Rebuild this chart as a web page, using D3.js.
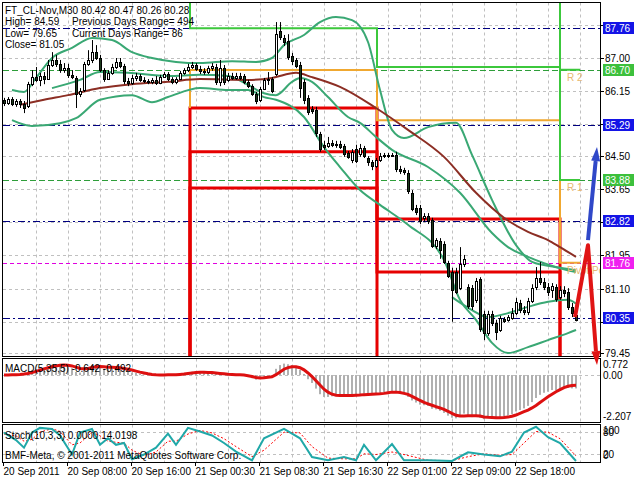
<!DOCTYPE html>
<html><head><meta charset="utf-8">
<script src="https://cdn.jsdelivr.net/npm/d3@7"></script>
<style>
body{margin:0;background:#fff;}
svg{display:block;}
text{font-family:"Liberation Sans",Arial,sans-serif;font-size:10px;}
</style></head><body>
<svg id="c" width="640" height="480"></svg>
<script>
// ---------------- DATA ----------------
const timeLabels=["20 Sep 2011","20 Sep 08:00","20 Sep 16:00","21 Sep 00:30","21 Sep 08:30","21 Sep 16:30","22 Sep 01:00","22 Sep 09:00","22 Sep 18:00"];
const labelBars=[0,16,32,48,64,80,96,112,128];
const priceTicks=[87.85,87.00,86.15,85.30,84.50,83.65,82.80,81.95,81.10,80.25,79.45];
// labels shown (the others are hidden behind the coloured level boxes)
const priceLabelTicks=[87.00,86.15,84.50,83.65,81.95,81.10,79.45];
const priceTickLabels=["87.00","86.15","84.50","83.65","81.95","81.10","79.45"];
const macdTicks=[0.772,0.00,-2.207];
const macdTickLabels=["0.772","0.00","-2.207"];
const stochTicks=[100,80,20,0];
const stochTickLabels=["100","80","20","0"];

const opens=[85.93,85.85,85.95,85.82,85.90,85.82,85.77,86.33,86.51,86.44,
86.54,86.46,86.82,86.95,86.85,86.69,86.74,86.57,86.49,86.08,
86.18,86.85,86.95,87.15,87.00,86.69,86.46,86.62,86.77,86.90,
86.80,86.41,86.36,86.49,86.54,86.44,86.41,86.39,86.44,86.36,
86.51,86.59,86.46,86.39,86.46,86.62,86.69,86.77,86.82,86.72,
86.67,86.64,86.74,86.77,86.39,86.74,86.44,86.54,86.49,86.54,
86.54,86.39,86.28,86.08,85.93,86.21,86.44,86.46,86.59,87.69,
87.51,87.43,87.05,86.95,86.82,86.39,85.98,85.69,85.67,85.06,
84.78,84.75,84.83,84.78,84.80,84.75,84.57,84.39,84.67,84.54,
84.70,84.44,84.34,84.24,84.39,84.52,84.49,84.52,84.52,84.16,
84.13,84.06,83.55,83.16,83.16,82.91,82.96,82.85,82.19,82.31,
82.24,81.76,81.52,81.52,81.11,81.73,81.14,81.11,80.81,81.34,
80.45,79.96,80.45,80.22,80.04,80.32,80.30,80.35,80.47,80.73,
80.55,80.50,80.78,81.14,81.37,81.27,81.14,81.06,81.14,80.88,
81.06,81.01,80.63,80.42];
const highs=[85.98,86.00,86.00,85.95,85.95,85.90,86.39,86.69,86.77,86.62,
86.64,86.95,87.15,87.08,86.95,86.87,86.85,86.69,86.54,86.23,
86.90,87.20,87.46,87.33,87.08,86.74,86.69,86.85,87.00,87.00,
86.85,86.49,86.57,86.62,86.59,86.51,86.46,86.49,86.54,86.57,
86.64,86.64,86.51,86.51,86.67,86.74,86.85,86.90,86.87,86.80,
86.74,86.80,86.87,86.85,86.95,86.82,86.62,86.62,86.62,86.62,
86.59,86.44,86.33,86.13,86.26,86.49,86.64,86.51,87.92,87.92,
87.59,87.61,87.13,87.00,86.90,86.46,86.05,85.77,85.75,85.11,
84.88,84.98,84.90,84.88,84.88,84.80,84.62,84.67,84.78,84.80,
84.75,84.49,84.39,84.44,84.57,84.57,84.57,84.57,84.60,84.24,
84.19,84.13,83.62,83.24,83.24,83.03,83.03,82.91,82.39,82.39,
82.31,81.81,81.63,81.63,82.16,81.96,81.21,81.19,81.37,81.39,
80.53,80.53,80.53,80.30,80.40,80.37,80.42,80.60,80.86,80.81,
80.65,80.86,81.21,81.65,81.78,81.37,81.24,81.24,81.21,81.16,
81.16,81.11,80.73,80.47];
const lows=[85.77,85.80,85.77,85.75,85.72,85.59,85.72,86.28,86.39,86.28,
86.33,86.44,86.77,86.77,86.62,86.62,86.49,86.46,85.72,86.00,
86.13,86.80,86.87,86.95,86.64,86.39,86.44,86.57,86.72,86.74,
86.33,86.28,86.31,86.41,86.39,86.36,86.33,86.33,86.31,86.33,
86.49,86.41,86.33,86.33,86.44,86.57,86.64,86.72,86.67,86.59,
86.57,86.59,86.67,86.31,86.28,86.31,86.39,86.44,86.44,86.44,
86.33,86.23,86.03,85.82,85.87,86.18,86.31,86.10,86.54,87.46,
87.31,86.95,86.82,86.74,85.98,85.82,85.54,85.57,84.98,84.60,
84.65,84.70,84.72,84.70,84.67,84.47,84.42,84.31,84.31,84.47,
84.44,84.24,84.13,84.19,84.34,84.44,84.44,84.47,84.08,84.03,
84.01,83.52,83.08,82.98,82.75,82.80,82.75,82.14,82.11,81.86,
81.73,81.37,80.25,80.96,81.06,81.65,80.58,80.55,80.73,79.99,
79.78,79.89,80.14,79.78,79.99,80.22,80.25,80.30,80.42,80.47,
80.42,80.42,80.73,81.06,81.19,81.06,80.91,80.86,80.76,80.81,
80.88,80.55,80.37,80.26];
const closes=[85.85,85.95,85.82,85.90,85.82,85.72,86.33,86.51,86.44,86.54,
86.46,86.82,86.95,86.85,86.69,86.74,86.57,86.51,86.08,86.16,
86.85,86.95,87.15,87.00,86.69,86.46,86.62,86.77,86.90,86.80,
86.41,86.36,86.49,86.54,86.44,86.41,86.39,86.44,86.36,86.51,
86.59,86.46,86.39,86.46,86.62,86.69,86.77,86.82,86.72,86.67,
86.64,86.74,86.80,86.39,86.74,86.39,86.54,86.49,86.54,86.49,
86.39,86.28,86.08,85.90,86.21,86.44,86.46,86.16,87.61,87.54,
87.41,87.03,86.92,86.80,86.23,85.93,85.62,85.64,85.08,84.67,
84.72,84.83,84.78,84.80,84.72,84.54,84.47,84.60,84.37,84.70,
84.49,84.34,84.24,84.39,84.49,84.49,84.52,84.49,84.16,84.11,
84.08,83.60,83.14,83.06,82.83,82.96,82.83,82.19,82.34,82.09,
81.78,81.42,81.06,81.01,81.73,81.86,80.65,80.65,81.29,80.07,
79.96,80.45,80.22,79.99,80.35,80.27,80.37,80.47,80.76,80.55,
80.50,80.78,81.11,81.37,81.27,81.14,81.01,81.16,80.83,81.06,
80.99,80.63,80.47,80.28];

// moving average (brown)
const maIdx=[4,10,16,24,32,41,49,61,67,73,77,84,93,101,110,118,125,131,136,139,143];
const maVal=[85.80,85.93,86.05,86.23,86.33,86.39,86.46,86.44,86.49,86.62,86.51,86.26,85.72,85.16,84.47,83.55,82.91,82.55,82.34,82.16,81.91];
// bands (green)
const bbUpIdx=[2,5,8,12,17,22,27,32,37,43,49,57,63,67,70,75,79,83,87,91,94,97,100,106,113,117,122,128,132,135,139,143];
const bbUpVal=[86.18,86.13,86.49,87.00,87.26,87.51,87.46,87.15,87.00,86.90,86.87,86.92,86.90,87.00,87.33,87.59,87.92,88.05,87.97,87.41,86.18,85.16,84.95,85.23,85.34,84.52,83.37,82.21,81.78,81.70,81.63,81.57];
const bbMidIdx=[12,19,24,31,41,49,56,61,65,68,72,74,77,81,86,89,93,97,106,114,122,126,131,135,139,143];
const bbMidVal=[86.23,86.44,86.64,86.62,86.54,86.57,86.54,86.31,86.10,86.05,86.39,86.49,86.39,86.00,85.49,85.34,84.98,84.65,84.21,83.55,82.52,82.16,81.91,81.75,81.62,81.52];
const bbLowIdx=[2,7,14,18,24,32,37,41,49,56,61,65,68,75,80,84,89,94,101,110,114,118,122,126,131,136,141,143];
const bbLowVal=[85.41,85.26,85.33,85.46,85.93,86.05,85.87,86.00,86.23,86.18,86.18,86.00,85.93,85.49,84.72,84.21,83.62,83.24,82.73,81.83,80.81,80.30,79.71,79.45,79.60,79.78,79.96,80.04];
const bbLow2Idx=[112,117,121,126,131,136,141,143];
const bbLow2Val=[80.88,80.55,80.37,80.47,80.63,80.76,80.81,80.71];

// daily pivot levels: day starts (bar index) and per-day levels
const dayStarts=[46.5,93.25,139];
const dayEnd=144;
const r2Prev=89.5, r2Levels=[89.5,89.5,86.70];
const r1Prev=89.5, r1Levels=[87.76,86.77,83.88];
const pivPrev=85.72, pivLevels=[86.69,85.41,81.76];
const s1Prev=78.0, s1Levels=[85.72,82.88,78.0];
const s2Prev=78.0, s2Levels=[84.60,81.52,78.0];
const s3Prev=78.0, s3Levels=[83.67,78.0,78.0];
const levelNames=["R 2","R 1","Pivot Point"];
const levelNameValues=[86.70,83.88,81.76];

const blueLevels=[87.76,85.29,82.82,80.35];
const greenLevels=[86.70,83.88];
const pivotLevels=[81.76];

// arrows (bar index, price)
const blueArrowBars=[146,148.25], blueArrowPrices=[82.34,84.72];
const redArrowBars=[142.75,146,148.25], redArrowPrices=[80.37,82.21,79.14];

// MACD(5,35,5)
const macdHist=[0,0.02,0.03,0.05,0.05,0.04,0.15,0.25,0.30,0.32,
0.35,0.42,0.50,0.52,0.48,0.45,0.38,0.33,0.15,0.12,
0.25,0.38,0.48,0.45,0.40,0.30,0.30,0.33,0.36,0.34,
0.22,0.15,0.12,0.10,0.06,0.03,0.00,-0.02,-0.03,0.00,
0.03,0.02,0.00,0.02,0.06,0.10,0.14,0.16,0.16,0.14,
0.12,0.12,0.12,0.05,0.06,0.02,0.02,0.01,0.02,0.00,
-0.03,-0.08,-0.15,-0.22,-0.15,-0.08,0.00,-0.05,0.30,0.48,
0.55,0.52,0.48,0.40,0.25,0.05,-0.20,-0.38,-0.65,-0.92,
-1.05,-1.05,-1.02,-0.98,-0.95,-0.98,-1.00,-0.95,-0.98,-0.92,
-0.90,-0.92,-0.95,-0.90,-0.85,-0.82,-0.80,-0.78,-0.85,-0.90,
-0.92,-1.05,-1.22,-1.32,-1.42,-1.45,-1.48,-1.62,-1.65,-1.72,
-1.82,-1.95,-2.05,-2.08,-1.95,-1.85,-1.95,-2.02,-1.95,-2.05,
-2.12,-2.05,-2.05,-2.10,-2.02,-2.00,-1.95,-1.88,-1.75,-1.68,
-1.60,-1.48,-1.30,-1.10,-0.95,-0.85,-0.80,-0.72,-0.72,-0.65,
-0.62,-0.62,-0.64,-0.642];
const macdSignal=[0.00,0.00,0.01,0.02,0.03,0.05,0.08,0.12,0.18,0.24,
0.30,0.35,0.40,0.44,0.47,0.48,0.47,0.44,0.38,0.32,
0.30,0.32,0.36,0.40,0.41,0.40,0.38,0.37,0.36,0.35,
0.32,0.28,0.24,0.19,0.14,0.10,0.06,0.03,0.01,0.00,
0.00,0.01,0.01,0.01,0.03,0.05,0.08,0.10,0.12,0.13,
0.13,0.12,0.12,0.10,0.08,0.06,0.04,0.03,0.02,0.01,
0.00,-0.03,-0.07,-0.12,-0.14,-0.13,-0.10,-0.08,0.02,0.15,
0.28,0.36,0.40,0.40,0.35,0.25,0.10,-0.07,-0.27,-0.48,
-0.68,-0.82,-0.92,-0.97,-0.98,-0.98,-0.98,-0.98,-0.97,-0.96,
-0.94,-0.93,-0.92,-0.91,-0.90,-0.88,-0.85,-0.82,-0.82,-0.84,
-0.88,-0.93,-1.02,-1.12,-1.22,-1.31,-1.38,-1.45,-1.52,-1.58,
-1.65,-1.74,-1.84,-1.93,-1.97,-1.97,-1.96,-1.96,-1.95,-1.97,
-2.01,-2.03,-2.04,-2.05,-2.05,-2.04,-2.02,-1.98,-1.92,-1.84,
-1.76,-1.68,-1.58,-1.46,-1.32,-1.18,-1.04,-0.92,-0.80,-0.70,
-0.60,-0.54,-0.50,-0.492];

// Stochastic(10,3,3)
const stochIdx=[0,3,5,7,9,12,14,17,19,22,24,26,28,30,32,35,38,41,43,46,49,52,55,58,62,65,70,74,77,81,85,88,90,93,97,100,106,112,116,120,124,127,130,133,136,139,143];
const stochMain=[79,58,37,79,92,89,71,18,79,89,45,63,45,50,5,18,37,76,45,92,82,71,50,26,2,63,89,63,11,2,11,2,45,2,47,2,2,0,24,18,13,26,79,95,66,50,0];
const stochSig=[75,70,55,60,80,90,82,45,50,80,70,55,52,50,30,15,25,55,55,75,85,78,62,40,12,30,80,78,40,8,6,6,20,18,25,18,2,1,12,20,16,18,50,82,80,62,14];

// ---------------- DRAW ----------------
const svg=d3.select("#c");
const defs=svg.append("defs");
defs.append("clipPath").attr("id","cm").append("rect").attr("x",3).attr("y",3).attr("width",597).attr("height",353);
defs.append("clipPath").attr("id","cmacd").append("rect").attr("x",3).attr("y",359).attr("width",597).attr("height",63);
defs.append("clipPath").attr("id","cst").append("rect").attr("x",3).attr("y",425).attr("width",597).attr("height",37);

const x=d3.scaleLinear().domain([0,143]).range([4,576]);
const y=d3.scaleLinear().domain([79.373,88.408]).range([356,3]);
const ym=d3.scaleLinear().domain([-2.207,0.772]).range([421,359]);
const ys=d3.scaleLinear().domain([0,100]).range([461,425]);

const gridColor="#c0c0c0";
const panels=[[2.5,356.5],[358.5,422.5],[424.5,462.5]];

// vertical grid
const vgrid=d3.range(8,145,8);
panels.forEach(([t,b])=>{
  svg.append("g").selectAll("line").data(vgrid).join("line")
    .attr("x1",d=>Math.round(x(d))+0.5).attr("x2",d=>Math.round(x(d))+0.5)
    .attr("y1",t).attr("y2",b).attr("stroke",gridColor).attr("stroke-dasharray","3,3");
});
// horizontal grids
svg.append("g").selectAll("line").data(priceTicks).join("line")
  .attr("x1",3).attr("x2",600).attr("y1",d=>Math.round(y(d))+0.5).attr("y2",d=>Math.round(y(d))+0.5)
  .attr("stroke",gridColor).attr("stroke-dasharray","3,3");
svg.append("line").attr("x1",3).attr("x2",600).attr("y1",Math.round(ym(0))+0.5).attr("y2",Math.round(ym(0))+0.5)
  .attr("stroke",gridColor).attr("stroke-dasharray","3,3");
svg.append("g").selectAll("line").data([80,20]).join("line")
  .attr("x1",3).attr("x2",600).attr("y1",d=>Math.round(ys(d))+0.5).attr("y2",d=>Math.round(ys(d))+0.5)
  .attr("stroke",gridColor).attr("stroke-dasharray","3,3");

const main=svg.append("g").attr("clip-path","url(#cm)");

// level lines across chart
main.selectAll(".bl").data(blueLevels).join("line")
  .attr("x1",3).attr("x2",600).attr("y1",d=>Math.round(y(d))+0.5).attr("y2",d=>Math.round(y(d))+0.5)
  .attr("stroke","#000080").attr("stroke-dasharray","7,3,2,3");
main.selectAll(".gl").data(greenLevels).join("line")
  .attr("x1",3).attr("x2",600).attr("y1",d=>Math.round(y(d))+0.5).attr("y2",d=>Math.round(y(d))+0.5)
  .attr("stroke","#2e9e3a").attr("stroke-dasharray","6,3");
main.selectAll(".pl").data(pivotLevels).join("line")
  .attr("x1",3).attr("x2",600).attr("y1",d=>Math.round(y(d))+0.5).attr("y2",d=>Math.round(y(d))+0.5)
  .attr("stroke","#e000e0").attr("stroke-dasharray","4,3");

// step pivot lines
function stepPath(prev,levels){
  let p=d3.path();
  p.moveTo(x(dayStarts[0]),y(prev));
  levels.forEach((v,k)=>{
    const xs=x(dayStarts[k]);
    const xe=x(k<dayStarts.length-1?dayStarts[k+1]:dayEnd);
    p.lineTo(xs,y(v)); p.lineTo(xe,y(v));
  });
  return p.toString();
}
[[s3Prev,s3Levels],[s2Prev,s2Levels],[s1Prev,s1Levels]].forEach(([pv,lv])=>{
  main.append("path").attr("d",stepPath(pv,lv)).attr("fill","none").attr("stroke","#e60000").attr("stroke-width",3);
});
main.append("path").attr("d",stepPath(pivPrev,pivLevels)).attr("fill","none").attr("stroke","#f0a830").attr("stroke-width",2);
[[r1Prev,r1Levels],[r2Prev,r2Levels]].forEach(([pv,lv])=>{
  main.append("path").attr("d",stepPath(pv,lv)).attr("fill","none").attr("stroke","#3cc83c").attr("stroke-width",2);
});

// indicator lines
const lineGen=(idx,val)=>d3.line().x((d,k)=>x(idx[k])).y(d=>y(d)).curve(d3.curveMonotoneX)(val);
[[bbUpIdx,bbUpVal],[bbMidIdx,bbMidVal],[bbLowIdx,bbLowVal],[bbLow2Idx,bbLow2Val]].forEach(([i,v])=>{
  main.append("path").attr("d",lineGen(i,v)).attr("fill","none").attr("stroke","#3aa874").attr("stroke-width",2);
});
main.append("path").attr("d",lineGen(maIdx,maVal)).attr("fill","none").attr("stroke","#8c2e24").attr("stroke-width",2);

// candles
const cg=main.append("g");
opens.forEach((o,i)=>{
  const c=closes[i], cx=Math.round(x(i))+0.5;
  cg.append("line").attr("x1",cx).attr("x2",cx).attr("y1",y(highs[i])).attr("y2",y(lows[i])).attr("stroke","#000");
  const top=y(Math.max(o,c)), bot=y(Math.min(o,c));
  const yt=Math.round(top)+0.5, h=Math.max(1,Math.round(bot-top));
  cg.append("rect").attr("x",cx-1).attr("width",2).attr("y",yt).attr("height",h)
    .attr("fill",c>=o?"#ffffff":"#1c3a1c").attr("stroke","#000").attr("stroke-width",1);
});

// level names (drawn over the lines, like the terminal labels)
main.selectAll(".ln").data(levelNames).join("text")
  .attr("x",x(dayStarts[2])+7).attr("y",(d,k)=>y(levelNameValues[k])+11)
  .attr("fill","#e8b870").style("font-size","10px").text(d=>d);

// MACD
const mg=svg.append("g").attr("clip-path","url(#cmacd)");
mg.selectAll("rect").data(macdHist).join("rect")
  .attr("x",(d,i)=>Math.round(x(i))-1).attr("width",2)
  .attr("y",d=>Math.min(ym(0),ym(d))).attr("height",d=>Math.abs(ym(d)-ym(0)))
  .attr("fill","#b0b0b0");
mg.append("path").attr("d",d3.line().x((d,i)=>x(i)).y(d=>ym(d))(macdSignal))
  .attr("fill","none").attr("stroke","#dd1010").attr("stroke-width",3);

// Stochastic
const sg=svg.append("g").attr("clip-path","url(#cst)");
sg.append("path").attr("d",d3.line().x((d,k)=>x(stochIdx[k])).y(d=>ys(d))(stochSig))
  .attr("fill","none").attr("stroke","#ff0000").attr("stroke-width",1).attr("stroke-dasharray","2,2");
sg.append("path").attr("d",d3.line().x((d,k)=>x(stochIdx[k])).y(d=>ys(d))(stochMain))
  .attr("fill","none").attr("stroke","#20a8a8").attr("stroke-width",2);

// panel frames
panels.forEach(([t,b])=>{
  svg.append("rect").attr("x",2.5).attr("y",t).attr("width",598).attr("height",b-t)
    .attr("fill","none").attr("stroke","#000");
});

// right axis labels
const ax=svg.append("g");
priceTicks.forEach(v=>{
  const yy=Math.round(y(v))+0.5;
  ax.append("line").attr("x1",600).attr("x2",604).attr("y1",yy).attr("y2",yy).attr("stroke","#000");
});
priceLabelTicks.forEach((v,k)=>{
  ax.append("text").attr("x",605).attr("y",y(v)+4).text(priceTickLabels[k]);
});
macdTicks.forEach((v,k)=>{
  ax.append("text").attr("x",603).attr("y",Math.min(Math.max(ym(v)+4,368),420)).text(macdTickLabels[k]);
});
stochTicks.forEach((v,k)=>{
  ax.append("text").attr("x",603).attr("y",Math.min(Math.max(ys(v)+4,434),459)).text(stochTickLabels[k]);
});
function box(v,col){
  const yy=Math.round(y(v));
  ax.append("rect").attr("x",603).attr("y",yy-6).attr("width",31).attr("height",12).attr("fill",col);
  ax.append("text").attr("x",605).attr("y",yy+4).attr("fill","#fff").text(v.toFixed(2));
}
blueLevels.forEach(v=>box(v,"#1414e6"));
greenLevels.forEach(v=>box(v,"#3cc03c"));
pivotLevels.forEach(v=>box(v,"#f020f0"));

// time axis
labelBars.forEach((b,k)=>{
  const xx=Math.round(x(b))-0.5;
  ax.append("line").attr("x1",xx).attr("x2",xx).attr("y1",462).attr("y2",466).attr("stroke","#000");
  ax.append("text").attr("x",xx).attr("y",475).text(timeLabels[k]);
});

// header & labels
const hd=svg.append("g");
hd.append("text").attr("x",5).attr("y",14).text("FT_CL-Nov,M30  80.42 80.47 80.26 80.28");
hd.append("text").attr("x",5).attr("y",25).text("High= 84.59");
hd.append("text").attr("x",72).attr("y",25).text("Previous Days Range= 494");
hd.append("text").attr("x",5).attr("y",37).text("Low= 79.65");
hd.append("text").attr("x",72).attr("y",37).text("Current Days Range= 86");
hd.append("text").attr("x",5).attr("y",48).text("Close= 81.05");
hd.append("text").attr("x",5).attr("y",372).text("MACD(5,35,5) -0.642 -0.492");
hd.append("text").attr("x",5).attr("y",439).text("Stoch(10,3,3) 0.0000 14.0198");
hd.append("text").attr("x",5).attr("y",459).text("BMF-Meta, \u00a9 2001-2011 MetaQuotes Software Corp.");

// arrows
function arrow(bars,prices,col){
  const pts=bars.map((b,k)=>[x(b),y(prices[k])]);
  const n=pts.length, a=pts[n-2], b=pts[n-1];
  const dx=b[0]-a[0], dy=b[1]-a[1], len=Math.hypot(dx,dy), ux=dx/len, uy=dy/len;
  const hl=14, hw=4.5;
  const base=[b[0]-ux*hl,b[1]-uy*hl];
  const linePts=pts.slice(0,n-1).concat([base]);
  svg.append("path").attr("d",d3.line()(linePts)).attr("fill","none").attr("stroke",col).attr("stroke-width",4).attr("stroke-linejoin","round");
  svg.append("path").attr("d",d3.line()([[b[0],b[1]],[base[0]-uy*hw,base[1]+ux*hw],[base[0]+uy*hw,base[1]-ux*hw]])+"Z").attr("fill",col);
}
arrow(blueArrowBars,blueArrowPrices,"#3048c8");
arrow(redArrowBars,redArrowPrices,"#e01414");
</script>
</body></html>
